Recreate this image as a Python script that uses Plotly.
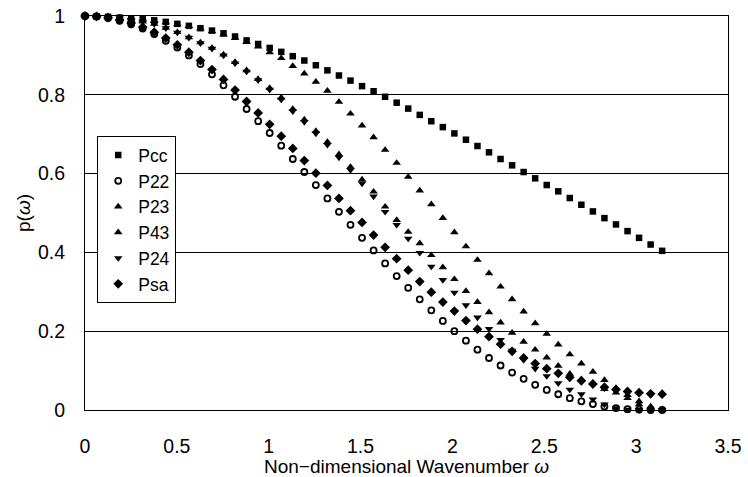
import math
import plotly.graph_objects as go

# x positions: 51 samples from 0 to pi (step pi/50)
n_points = 51
omega_max = 3.1416
omega = [round(i * omega_max / (n_points - 1), 4) for i in range(n_points)]

Pcc = [1.000, 0.999, 0.998, 0.996, 0.994, 0.992, 0.989, 0.985, 0.980, 0.975,
       0.969, 0.963, 0.956, 0.948, 0.938, 0.929, 0.919, 0.909, 0.898, 0.887,
       0.875, 0.862, 0.849, 0.836, 0.822, 0.809, 0.795, 0.780, 0.765, 0.749,
       0.733, 0.718, 0.702, 0.686, 0.670, 0.654, 0.637, 0.621, 0.604, 0.588,
       0.571, 0.555, 0.538, 0.521, 0.504, 0.487, 0.471, 0.454, 0.437, 0.420,
       0.404]

P22 = [1.000, 0.999, 0.995, 0.988, 0.979, 0.968, 0.954, 0.937, 0.920, 0.900,
       0.878, 0.852, 0.824, 0.795, 0.764, 0.733, 0.703, 0.671, 0.637, 0.604,
       0.571, 0.537, 0.503, 0.470, 0.437, 0.405, 0.372, 0.340, 0.310, 0.281,
       0.253, 0.226, 0.200, 0.176, 0.153, 0.132, 0.113, 0.095, 0.079, 0.064,
       0.051, 0.040, 0.030, 0.022, 0.015, 0.009, 0.005, 0.002, 0.001, 0.000,
       0.000]

P23 = [1.000, 0.999, 0.998, 0.996, 0.994, 0.991, 0.988, 0.984, 0.979, 0.974,
       0.968, 0.961, 0.953, 0.944, 0.934, 0.922, 0.908, 0.893, 0.873, 0.854,
       0.833, 0.810, 0.782, 0.752, 0.722, 0.692, 0.660, 0.627, 0.592, 0.557,
       0.522, 0.487, 0.451, 0.415, 0.381, 0.347, 0.313, 0.281, 0.250, 0.220,
       0.193, 0.166, 0.141, 0.118, 0.097, 0.076, 0.056, 0.038, 0.022, 0.009,
       0.002]

P43 = [1.000, 0.999, 0.997, 0.994, 0.990, 0.986, 0.980, 0.970, 0.959, 0.946,
       0.933, 0.919, 0.902, 0.883, 0.862, 0.840, 0.817, 0.793, 0.764, 0.737,
       0.708, 0.680, 0.649, 0.617, 0.585, 0.554, 0.516, 0.482, 0.452, 0.423,
       0.393, 0.362, 0.332, 0.302, 0.274, 0.248, 0.222, 0.196, 0.173, 0.153,
       0.133, 0.112, 0.092, 0.078, 0.068, 0.053, 0.044, 0.030, 0.014, 0.005,
       0.000]

P24 = [1.000, 0.999, 0.997, 0.994, 0.990, 0.986, 0.980, 0.969, 0.958, 0.945,
       0.931, 0.917, 0.900, 0.880, 0.859, 0.837, 0.813, 0.788, 0.758, 0.731,
       0.702, 0.673, 0.641, 0.609, 0.575, 0.542, 0.503, 0.470, 0.435, 0.399,
       0.364, 0.330, 0.298, 0.266, 0.235, 0.206, 0.178, 0.151, 0.127, 0.105,
       0.086, 0.068, 0.052, 0.040, 0.027, 0.014, 0.005, 0.001, 0.000, 0.000,
       0.000]

Psa = [1.000, 0.999, 0.996, 0.990, 0.982, 0.972, 0.959, 0.944, 0.927, 0.908,
       0.887, 0.864, 0.839, 0.812, 0.783, 0.754, 0.725, 0.695, 0.664, 0.633,
       0.601, 0.570, 0.537, 0.506, 0.476, 0.444, 0.413, 0.384, 0.355, 0.326,
       0.299, 0.274, 0.251, 0.227, 0.205, 0.186, 0.167, 0.149, 0.132, 0.118,
       0.105, 0.093, 0.083, 0.074, 0.066, 0.058, 0.052, 0.047, 0.044, 0.041,
       0.040]

series = [
    ("Pcc", Pcc, dict(symbol="square", size=6.5, color="black")),
    ("P22", P22, dict(symbol="circle-open", size=6, color="black", line=dict(width=1.8, color="black"))),
    ("P23", P23, dict(symbol="triangle-up", size=7.5, color="black")),
    ("P43", P43, dict(symbol="triangle-up", size=7.5, color="black")),
    ("P24", P24, dict(symbol="triangle-down", size=7.5, color="black")),
    ("Psa", Psa, dict(symbol="diamond", size=7.5, color="black")),
]

x_ticks = [0, 0.5, 1, 1.5, 2, 2.5, 3, 3.5]
x_tick_text = ["0", "0.5", "1", "1.5", "2", "2.5", "3", "3.5"]
y_ticks = [0, 0.2, 0.4, 0.6, 0.8, 1]
y_tick_text = ["0", "0.2", "0.4", "0.6", "0.8", "1"]

FONT = "Liberation Sans, Arial, sans-serif"

fig = go.Figure()
for name, vals, marker in series:
    fig.add_trace(go.Scatter(x=omega, y=vals, mode="markers", name=name,
                             marker=marker, cliponaxis=False))

fig.update_layout(
    width=748, height=477,
    margin=dict(l=85, r=20, t=16, b=67),
    paper_bgcolor="white", plot_bgcolor="white",
    font=dict(family=FONT, color="black", size=19),
    showlegend=True,
    legend=dict(x=0.019, y=0.695, xanchor="left", yanchor="top",
                bordercolor="black", borderwidth=1, bgcolor="white",
                font=dict(family=FONT, size=17.5, color="black"),
                itemwidth=30, tracegroupgap=0),
    xaxis=dict(range=[0, 3.5], tickvals=x_ticks, ticktext=x_tick_text,
               showgrid=False, zeroline=False, showline=True, linecolor="black",
               linewidth=1, mirror=True, ticks="", ticklabelstandoff=19,
               tickfont=dict(size=19.5), automargin=False,
               title=dict(text="Non\u2212dimensional Wavenumber <i>\u03c9</i>",
                          font=dict(size=19), standoff=6)),
    yaxis=dict(range=[0, 1], tickvals=y_ticks, ticktext=y_tick_text,
               showgrid=True, gridcolor="black", gridwidth=1, zeroline=False,
               showline=True, linecolor="black", linewidth=1, mirror=True,
               ticks="", ticklabelstandoff=15, tickfont=dict(size=19.5),
               automargin=False,
               title=dict(text="p(<i>\u03c9</i>)", font=dict(size=19), standoff=2)),
)

fig.write_html("out.html")
